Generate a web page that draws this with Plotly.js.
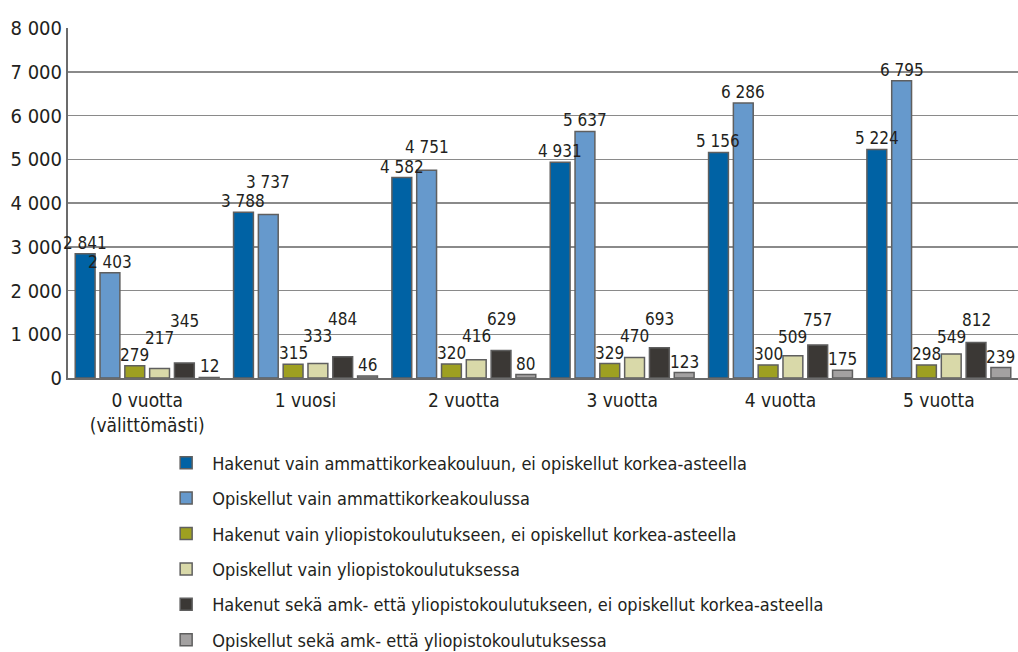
<!DOCTYPE html>
<html><head><meta charset="utf-8">
<script src="https://cdn.plot.ly/plotly-3.0.1.min.js"></script>
<style>html,body{margin:0;padding:0;background:#fff}#chart{width:1018px;height:652px}</style>
</head><body><div id="chart"></div>
<script>
const categories = ["0 vuotta<br>(välittömästi)", "1 vuosi", "2 vuotta", "3 vuotta", "4 vuotta", "5 vuotta"];
const seriesNames = [
  "Hakenut vain ammattikorkeakouluun, ei opiskellut korkea-asteella",
  "Opiskellut vain ammattikorkeakoulussa",
  "Hakenut vain yliopistokoulutukseen, ei opiskellut korkea-asteella",
  "Opiskellut vain yliopistokoulutuksessa",
  "Hakenut sekä amk- että yliopistokoulutukseen, ei opiskellut korkea-asteella",
  "Opiskellut sekä amk- että yliopistokoulutuksessa"
];
const hakenutAmk = [2841, 3788, 4582, 4931, 5156, 5224];
const opiskellutAmk = [2403, 3737, 4751, 5637, 6286, 6795];
const hakenutYo = [279, 315, 320, 329, 300, 298];
const opiskellutYo = [217, 333, 416, 470, 509, 549];
const hakenutMolemmat = [345, 484, 629, 693, 757, 812];
const opiskellutMolemmat = [12, 46, 80, 123, 175, 239];
const colors = ["#0062a4", "#6699cc", "#9ea021", "#d9d9a9", "#3b3835", "#a3a1a1"];

const values = [hakenutAmk, opiskellutAmk, hakenutYo, opiskellutYo, hakenutMolemmat, opiskellutMolemmat];
const FONT = "'DejaVu Sans Condensed', 'DejaVu Sans', sans-serif";

// layout geometry (style only)
const W = 1018, H = 652, ML = 68, MR = 0, MT = 28, MB = 274;
const BARGAP = 0.06, BARGROUPGAP = 0.2, YMAX = 8000;
const LABEL_FS = 17;
const plotW = W - ML - MR, plotH = H - MT - MB;
const groupW = plotW / categories.length;
const slot = groupW * (1 - BARGAP) / values.length;
const pxPerUnit = plotH / YMAX;

const fmt = v => String(v).replace(/\B(?=(\d{3})+(?!\d))/g, " ");
function labelWidth(s) {
  let w = 0;
  for (const c of s) w += (c === " " ? 0.3 : 0.6) * LABEL_FS;
  return w;
}

const traces = values.map((v, i) => ({
  type: "bar",
  name: seriesNames[i],
  x: categories,
  y: v,
  legendgroup: "g" + i,
  marker: {color: colors[i], line: {color: "#5f5f5f", width: 1.5}},
  hoverinfo: "skip"
}));

// value labels, staggered upward when neighbouring labels would collide
const annotations = [];
categories.forEach((cat, c) => {
  const placed = [];
  values.forEach((v, s) => {
    const val = v[c];
    const txt = fmt(val);
    const cx = (s - (values.length - 1) / 2) * slot;
    const w = labelWidth(txt);
    const hgt = 1.0 * LABEL_FS;
    const base = -val * pxPerUnit; // relative px (up is negative)
    let bottom = base;
    let moved = true;
    while (moved) {
      moved = false;
      for (const p of placed) {
        const hov = Math.min(cx + w / 2, p.cx + p.w / 2) - Math.max(cx - w / 2, p.cx - p.w / 2);
        const vov = Math.min(bottom, p.bottom) - Math.max(bottom - p.h, p.bottom - p.h);
        if (hov > 2 && vov > 1) { bottom = p.bottom - p.h; moved = true; }
      }
    }
    placed.push({cx, w, bottom, h: txt.length > 3 ? hgt * 1.15 : hgt});
    annotations.push({
      x: cat, y: val, xref: "x", yref: "y",
      text: txt, showarrow: false,
      xanchor: "center", yanchor: "bottom",
      xshift: cx, yshift: base - bottom,
      borderpad: 0,
      font: {family: FONT, size: LABEL_FS, color: "#231f20"}
    });
  });
});

const layout = {
  width: W, height: H,
  margin: {l: ML, r: MR, t: MT, b: MB, autoexpand: false},
  paper_bgcolor: "#fff", plot_bgcolor: "#fff",
  separators: ", ",
  font: {family: FONT, color: "#231f20"},
  barmode: "group",
  bargap: BARGAP,
  bargroupgap: BARGROUPGAP,
  showlegend: true,
  annotations: annotations,
  legend: {
    x: 0.097, xanchor: "left", y: -0.19, yanchor: "top",
    traceorder: "grouped", tracegroupgap: 9,
    itemwidth: 42,
    font: {family: FONT, size: 18, color: "#231f20"},
    bgcolor: "rgba(0,0,0,0)"
  },
  xaxis: {
    range: [-0.5, categories.length - 0.5], autorange: false,
    tickfont: {family: FONT, size: 19, color: "#231f20"},
    showline: true, linecolor: "#6b6b6b", linewidth: 2,
    ticks: "", showgrid: false, ticklabelstandoff: 4
  },
  yaxis: {
    range: [0, YMAX], autorange: false, dtick: 1000, tickformat: ",d",
    tickfont: {family: FONT, size: 20, color: "#231f20"},
    showline: true, linecolor: "#6b6b6b", linewidth: 2,
    gridcolor: "#8a8a8a", gridwidth: 1.5,
    ticks: "", zeroline: false,
    fixedrange: true
  }
};
Plotly.newPlot("chart", traces, layout, {displayModeBar: false, staticPlot: true});
</script></body></html>
